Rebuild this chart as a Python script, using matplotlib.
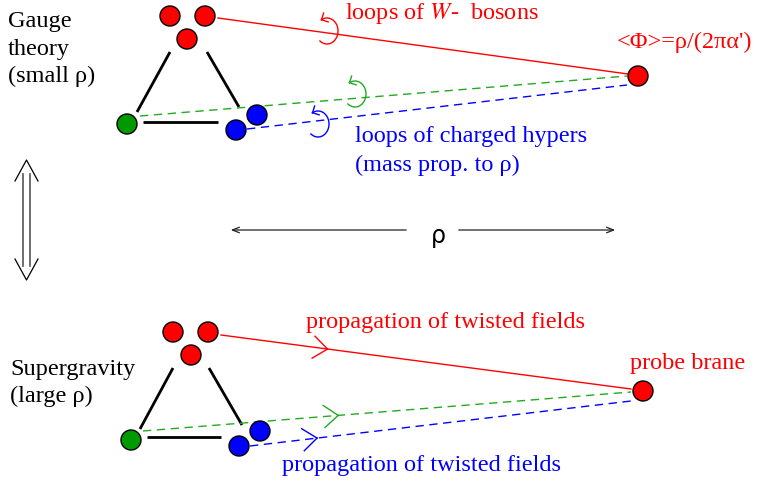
import numpy as np
import matplotlib.pyplot as plt
from matplotlib.patches import Circle

plt.rcParams['font.family'] = ['Liberation Serif', 'DejaVu Serif']
plt.rcParams['mathtext.fontset'] = 'stix'

# ball positions (x, y, colour) in pixel coords of the drawing
top_balls = [(170, 17, 'red'), (205, 17, 'red'), (187, 40, 'red'),
             (127, 125, '#009900'), (236, 131, 'blue'), (257, 116, 'blue'),
             (638, 77, 'red')]
bot_balls = [(173, 333, 'red'), (208, 333, 'red'), (191, 356, 'red'),
             (131, 441, '#009900'), (239, 447, 'blue'), (260, 432, 'blue'),
             (643, 392, 'red')]
ball_r = 10

# triangle edges (x0, y0, x1, y1)
top_tri = [(170, 53, 137, 113), (207, 53, 239, 108), (143, 123, 218, 123)]
bot_tri = [(173, 369, 140, 430), (209, 369, 242, 426), (147, 438, 221, 438)]

# string lines: (x0, y0, x1, y1, colour, style)
top_lines = [(218, 19, 628, 75, 'red', '-'),
             (140, 117, 627, 77, '#22aa22', '--'),
             (247, 130, 627, 86, 'blue', '--')]
bot_lines = [(221, 336, 631, 390, 'red', '-'),
             (143, 432, 631, 393, '#22aa22', '--'),
             (250, 447, 631, 402, 'blue', '--')]

# loop arrows on top lines: centre x, centre y, colour
loops = [(327, 32, 'red'), (355, 95, '#22aa22'), (318, 125, 'blue')]
# chevrons on bottom lines: fraction along line
chevrons = [0.26, 0.40, 0.176]


def chevron(x, y, dx, dy, c, length, spread=35):
    # open arrow head with apex at (x, y) pointing along (dx, dy)
    ang = np.arctan2(dy, dx)
    for s in (-1, 1):
        a = ang + np.pi + s * np.radians(spread)
        ax.plot([x + length * np.cos(a), x, ], [y + length * np.sin(a), y], color=c, lw=1)


fig = plt.figure(figsize=(7.6, 4.85), dpi=100)
ax = fig.add_axes([0, 0, 1, 1])
ax.set_xlim(0, 760)
ax.set_ylim(485, 0)
ax.axis('off')

for tri in (top_tri, bot_tri):
    for x0, y0, x1, y1 in tri:
        ax.plot([x0, x1], [y0, y1], color='black', lw=2, solid_capstyle='butt')

for lines in (top_lines, bot_lines):
    for x0, y0, x1, y1, c, ls in lines:
        ax.plot([x0, x1], [y0, y1], color=c, lw=1, ls=ls, dashes=(6, 4) if ls == '--' else (None, None))

for balls in (top_balls, bot_balls):
    for x, y, c in balls:
        ax.add_patch(Circle((x, y), ball_r, facecolor=c, edgecolor='black', lw=1, zorder=5))

# loop arrows - a ")" shaped arc with an arrow tip at the top end
for cx, cy, c in loops:
    t = np.radians(np.linspace(-130, 120, 60))
    xs = cx + 11 * np.cos(t)
    ys = cy - 13 * np.sin(t)
    ax.plot(xs, ys, color=c, lw=1)
    chevron(xs[-1], ys[-1], xs[-1] - xs[-4], ys[-1] - ys[-4], c, 7, 45)

# chevrons on the bottom lines
for (x0, y0, x1, y1, c, ls), f in zip(bot_lines, chevrons):
    px, py = x0 + f * (x1 - x0), y0 + f * (y1 - y0)
    chevron(px, py, x1 - x0, y1 - y0, c, 18, 38)

# double arrow on the left
ax.plot([23, 23], [175, 267], color='#555555', lw=1.2)
ax.plot([30, 30], [175, 267], color='#555555', lw=1.2)
ax.plot([15, 26.5, 38], [182, 161, 182], color='black', lw=0.9)
ax.plot([15, 26.5, 38], [260, 281, 260], color='black', lw=0.9)

# rho distance arrow
ax.annotate('', xy=(228, 231), xytext=(409, 231),
            arrowprops=dict(arrowstyle='->,head_length=0.5,head_width=0.2', color='#222222', lw=0.9))
ax.annotate('', xy=(618, 231), xytext=(456, 231),
            arrowprops=dict(arrowstyle='->,head_length=0.5,head_width=0.2', color='#222222', lw=0.9))
ax.text(438, 236, 'ρ', fontsize=17, family='DejaVu Sans', ha='center', va='center')

fs = 17.5
ax.text(8, 21, 'Gauge', fontsize=fs, va='center')
ax.text(8, 49, 'theory', fontsize=fs, va='center')
ax.text(8, 76, '(small ρ)', fontsize=fs, va='center')
ax.text(10, 370, 'Supergravity', fontsize=fs, va='center')
ax.text(10, 396, '(large ρ)', fontsize=fs, va='center')

ax.text(345, 13, 'loops of $W$-  bosons', fontsize=fs, color='red', va='center')
ax.text(617, 42, "<Φ>=ρ/(2πα')", fontsize=fs, color='red', va='center')
ax.text(355, 137, 'loops of charged hypers', fontsize=fs, color='blue', va='center')
ax.text(355, 165, '(mass prop. to ρ)', fontsize=fs, color='blue', va='center')
ax.text(306, 323, 'propagation of twisted fields', fontsize=fs, color='red', va='center')
ax.text(630, 364, 'probe brane', fontsize=fs, color='red', va='center')
ax.text(282, 466, 'propagation of twisted fields', fontsize=fs, color='blue', va='center')

fig.savefig('out.png', dpi=100)
